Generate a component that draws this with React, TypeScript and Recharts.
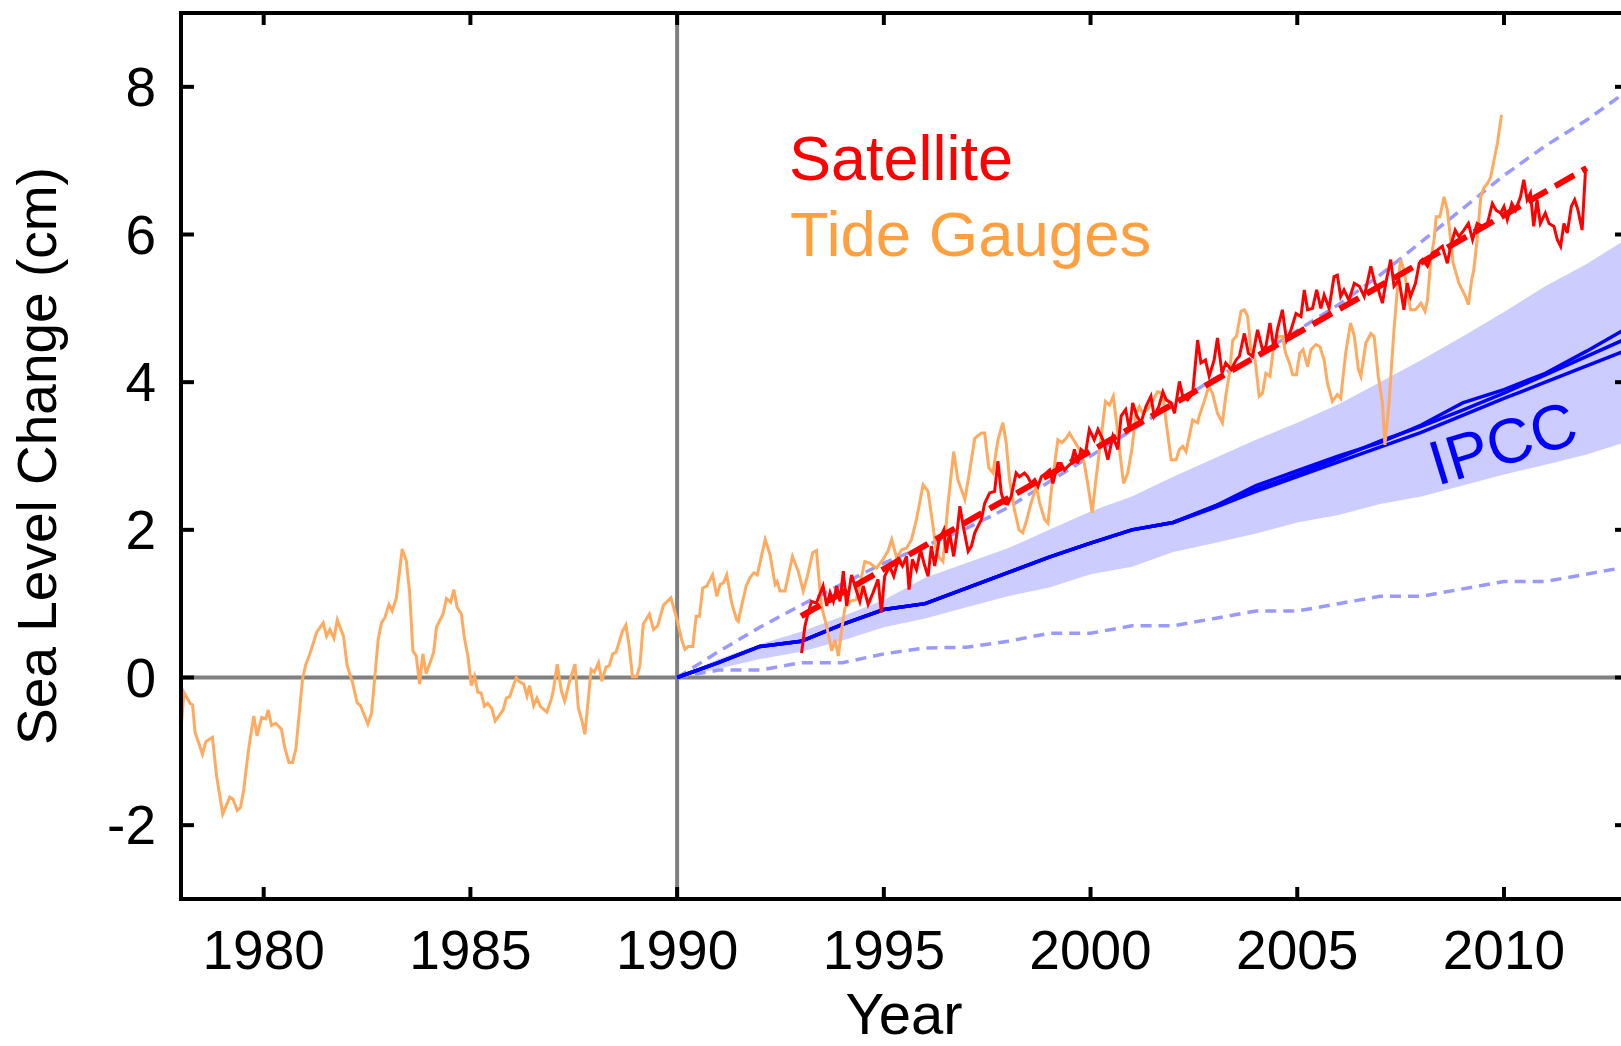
import {
  ComposedChart,
  Line,
  Area,
  XAxis,
  YAxis,
  ReferenceLine,
} from 'recharts';

const FONT = '"Liberation Sans", Arial, Helvetica, sans-serif';

// axis ticks
const yearTicks = [1980, 1985, 1990, 1995, 2000, 2005, 2010];
const levelTicks = [-2, 0, 2, 4, 6, 8];

// tide gauge record [year, cm]
const tideGauge = [
  [1978.0, -0.72], [1978.07, -0.2], [1978.22, -0.35], [1978.28, -0.37], [1978.34, -0.74],
  [1978.52, -1.04], [1978.6, -0.87], [1978.76, -0.81], [1978.86, -1.33], [1979.01, -1.85],
  [1979.18, -1.62], [1979.26, -1.65], [1979.36, -1.8], [1979.44, -1.76], [1979.52, -1.51],
  [1979.63, -0.99], [1979.76, -0.52], [1979.84, -0.79], [1979.95, -0.54], [1980.05, -0.56],
  [1980.11, -0.44], [1980.19, -0.65], [1980.29, -0.62], [1980.43, -0.7], [1980.51, -0.95],
  [1980.61, -1.15], [1980.7, -1.15], [1980.78, -0.96], [1980.94, -0.02], [1981.02, 0.18],
  [1981.1, 0.29], [1981.28, 0.61], [1981.44, 0.74], [1981.52, 0.56], [1981.6, 0.65],
  [1981.7, 0.53], [1981.78, 0.78], [1981.93, 0.56], [1982.02, 0.16], [1982.15, -0.07],
  [1982.26, -0.34], [1982.34, -0.38], [1982.52, -0.63], [1982.61, -0.48], [1982.77, 0.52],
  [1982.85, 0.74], [1982.93, 0.81], [1983.03, 0.99], [1983.11, 0.9], [1983.21, 1.08],
  [1983.35, 1.74], [1983.45, 1.58], [1983.53, 1.15], [1983.61, 0.36], [1983.69, 0.29],
  [1983.77, -0.09], [1983.85, 0.32], [1983.93, 0.05], [1984.11, 0.34], [1984.18, 0.68],
  [1984.34, 0.86], [1984.42, 1.07], [1984.52, 1.02], [1984.6, 1.19], [1984.68, 0.95],
  [1984.78, 0.86], [1984.86, 0.52], [1984.94, 0.29], [1985.02, -0.11], [1985.1, 0.02],
  [1985.18, -0.2], [1985.26, -0.21], [1985.34, -0.39], [1985.42, -0.35], [1985.52, -0.42],
  [1985.6, -0.59], [1985.79, -0.44], [1985.87, -0.28], [1985.95, -0.26], [1986.11, 0.0],
  [1986.19, -0.06], [1986.29, -0.09], [1986.37, -0.25], [1986.43, -0.11], [1986.53, -0.38],
  [1986.61, -0.28], [1986.69, -0.39], [1986.85, -0.47], [1986.96, -0.29], [1987.01, -0.16],
  [1987.1, 0.18], [1987.2, -0.18], [1987.28, -0.32], [1987.4, -0.05], [1987.53, 0.18],
  [1987.61, -0.41], [1987.7, -0.59], [1987.77, -0.77], [1987.92, 0.11], [1988.0, 0.07],
  [1988.1, 0.2], [1988.18, -0.05], [1988.28, 0.14], [1988.36, 0.16], [1988.44, 0.32],
  [1988.52, 0.34], [1988.68, 0.63], [1988.76, 0.71], [1988.84, 0.43], [1988.92, 0.01],
  [1989.02, 0.01], [1989.1, 0.16], [1989.18, 0.72], [1989.33, 0.86], [1989.43, 0.65],
  [1989.53, 0.7], [1989.67, 0.98], [1989.85, 1.08], [1989.99, 0.8], [1990.11, 0.51],
  [1990.19, 0.38], [1990.27, 0.42], [1990.38, 0.42], [1990.46, 0.83], [1990.54, 0.83],
  [1990.62, 1.21], [1990.72, 1.24], [1990.86, 1.39], [1990.96, 1.1], [1991.04, 1.26],
  [1991.12, 1.28], [1991.2, 1.39], [1991.32, 1.01], [1991.44, 0.78], [1991.48, 0.76],
  [1991.56, 0.97], [1991.67, 1.24], [1991.76, 1.35], [1991.86, 1.42], [1991.94, 1.39],
  [1992.13, 1.87], [1992.25, 1.66], [1992.37, 1.26], [1992.42, 1.3], [1992.49, 1.17],
  [1992.61, 1.17], [1992.79, 1.64], [1992.93, 1.44], [1993.05, 1.17], [1993.15, 1.37],
  [1993.28, 1.69], [1993.37, 1.72], [1993.49, 0.97], [1993.62, 0.69], [1993.74, 0.36],
  [1993.82, 0.51], [1993.9, 0.29], [1993.98, 0.65], [1994.06, 0.94], [1994.18, 1.03],
  [1994.34, 1.06], [1994.54, 1.57], [1994.66, 1.55], [1994.82, 1.48], [1994.98, 1.6],
  [1995.1, 1.71], [1995.19, 1.87], [1995.31, 1.62], [1995.43, 1.73], [1995.55, 1.75],
  [1995.67, 1.87], [1995.79, 2.14], [1995.95, 2.61], [1996.07, 2.52], [1996.19, 2.05],
  [1996.27, 1.71], [1996.35, 1.62], [1996.43, 1.57], [1996.55, 2.34], [1996.69, 3.06],
  [1996.79, 2.68], [1996.96, 2.41], [1997.08, 2.81], [1997.2, 3.24], [1997.36, 3.31],
  [1997.44, 3.31], [1997.54, 2.84], [1997.64, 2.77], [1997.76, 3.22], [1997.88, 3.45],
  [1997.96, 3.18], [1998.04, 2.68], [1998.16, 2.27], [1998.27, 2.0], [1998.36, 1.96],
  [1998.46, 2.14], [1998.56, 2.36], [1998.69, 2.59], [1998.77, 2.36], [1998.89, 2.14],
  [1998.97, 2.09], [1999.07, 2.63], [1999.21, 3.22], [1999.31, 3.18], [1999.41, 3.24],
  [1999.49, 3.31], [1999.61, 3.2], [1999.73, 3.09], [1999.85, 2.9], [1999.93, 2.63],
  [2000.04, 2.23], [2000.13, 2.68], [2000.26, 3.27], [2000.36, 3.74], [2000.46, 3.69],
  [2000.55, 3.81], [2000.63, 3.45], [2000.71, 3.04], [2000.8, 2.63], [2000.9, 2.77],
  [2001.0, 3.09], [2001.1, 3.58], [2001.18, 3.67], [2001.26, 3.58], [2001.38, 3.63],
  [2001.5, 3.74], [2001.62, 3.87], [2001.75, 3.85], [2001.83, 3.45], [2001.95, 2.95],
  [2002.07, 2.95], [2002.15, 3.09], [2002.23, 3.13], [2002.31, 3.06], [2002.47, 3.49],
  [2002.59, 3.45], [2002.63, 3.54], [2002.75, 3.74], [2002.86, 3.94], [2002.95, 3.85],
  [2003.07, 3.58], [2003.19, 3.45], [2003.27, 3.81], [2003.36, 4.12], [2003.44, 4.57],
  [2003.53, 4.62], [2003.64, 4.96], [2003.72, 4.98], [2003.8, 4.89], [2003.88, 4.44],
  [2003.98, 4.3], [2004.08, 3.81], [2004.16, 3.85], [2004.24, 4.12], [2004.34, 4.08],
  [2004.44, 4.53], [2004.55, 4.62], [2004.64, 4.62], [2004.72, 4.39], [2004.81, 4.26],
  [2004.89, 4.1], [2004.98, 4.1], [2005.06, 4.39], [2005.14, 4.44], [2005.25, 4.21],
  [2005.33, 4.44], [2005.45, 4.51], [2005.55, 4.48], [2005.65, 4.3], [2005.73, 3.99],
  [2005.85, 3.74], [2005.97, 3.83], [2006.05, 3.78], [2006.17, 4.39], [2006.29, 4.8],
  [2006.38, 4.62], [2006.48, 4.17], [2006.54, 4.08], [2006.66, 4.53], [2006.78, 4.66],
  [2006.86, 4.62], [2006.96, 4.08], [2007.06, 3.72], [2007.12, 3.15], [2007.22, 3.72],
  [2007.34, 4.71], [2007.42, 5.25], [2007.5, 5.66], [2007.58, 5.52], [2007.66, 5.25],
  [2007.74, 4.98], [2007.86, 4.98], [2007.99, 5.07], [2008.09, 4.96], [2008.15, 5.11],
  [2008.23, 5.66], [2008.31, 5.93], [2008.36, 6.24], [2008.45, 6.24], [2008.55, 6.51],
  [2008.63, 6.33], [2008.71, 5.93], [2008.77, 5.61], [2008.83, 5.5], [2008.91, 5.34],
  [2008.99, 5.25], [2009.07, 5.16], [2009.14, 5.05], [2009.22, 5.39], [2009.27, 5.52],
  [2009.35, 5.93], [2009.44, 6.51], [2009.51, 6.63], [2009.6, 6.69], [2009.68, 6.78],
  [2009.76, 7.01], [2009.84, 7.23], [2009.94, 7.62],
];

// satellite altimetry [year, cm]
const satellite = [
  [1993.01, 0.33], [1993.09, 0.69], [1993.15, 0.83], [1993.25, 1.03], [1993.37, 1.01],
  [1993.53, 1.24], [1993.62, 0.97], [1993.7, 1.15], [1993.78, 1.03], [1993.86, 1.24],
  [1993.94, 1.03], [1994.02, 1.44], [1994.1, 0.97], [1994.22, 1.39], [1994.3, 1.24],
  [1994.42, 1.03], [1994.5, 1.24], [1994.62, 0.99], [1994.74, 1.15], [1994.86, 1.33],
  [1994.94, 0.88], [1995.02, 1.37], [1995.14, 1.51], [1995.24, 1.37], [1995.35, 1.6],
  [1995.45, 1.51], [1995.55, 1.64], [1995.61, 1.19], [1995.69, 1.6], [1995.79, 1.46],
  [1995.89, 1.73], [1995.97, 1.55], [1996.07, 1.37], [1996.15, 1.78], [1996.23, 1.51],
  [1996.34, 1.87], [1996.45, 2.0], [1996.51, 1.69], [1996.59, 1.96], [1996.69, 1.64],
  [1996.77, 1.96], [1996.84, 2.32], [1996.92, 2.05], [1997.04, 1.71], [1997.12, 1.78],
  [1997.2, 1.96], [1997.28, 2.05], [1997.36, 2.14], [1997.44, 2.36], [1997.56, 2.5],
  [1997.68, 2.52], [1997.76, 2.93], [1997.84, 2.5], [1997.92, 2.36], [1998.0, 2.35],
  [1998.08, 2.45], [1998.2, 2.77], [1998.28, 2.72], [1998.4, 2.77], [1998.48, 2.72],
  [1998.56, 2.63], [1998.65, 2.68], [1998.73, 2.59], [1998.81, 2.72], [1998.93, 2.77],
  [1999.01, 2.81], [1999.09, 2.63], [1999.21, 2.9], [1999.29, 2.9], [1999.37, 2.81],
  [1999.45, 2.86], [1999.53, 2.9], [1999.61, 3.09], [1999.69, 2.9], [1999.77, 3.09],
  [1999.88, 3.04], [1999.97, 3.36], [2000.09, 3.22], [2000.18, 3.36], [2000.3, 3.22],
  [2000.42, 2.95], [2000.54, 3.27], [2000.66, 3.09], [2000.74, 3.54], [2000.85, 3.63],
  [2000.94, 3.36], [2001.02, 3.72], [2001.12, 3.54], [2001.22, 3.45], [2001.34, 3.67],
  [2001.46, 3.81], [2001.54, 3.54], [2001.65, 3.67], [2001.75, 3.87], [2001.83, 3.76],
  [2001.95, 3.72], [2002.03, 3.58], [2002.15, 4.01], [2002.23, 3.81], [2002.35, 3.76],
  [2002.47, 3.85], [2002.59, 4.57], [2002.67, 4.26], [2002.78, 4.3], [2002.87, 4.08],
  [2002.99, 4.3], [2003.07, 4.6], [2003.18, 4.12], [2003.27, 4.26], [2003.4, 4.17],
  [2003.52, 4.3], [2003.6, 4.35], [2003.72, 4.66], [2003.82, 4.39], [2003.92, 4.35],
  [2004.04, 4.71], [2004.16, 4.44], [2004.24, 4.48], [2004.34, 4.8], [2004.44, 4.44],
  [2004.52, 4.71], [2004.64, 4.98], [2004.74, 4.57], [2004.85, 4.71], [2004.97, 4.93],
  [2005.09, 4.89], [2005.17, 5.25], [2005.25, 4.98], [2005.37, 5.0], [2005.47, 5.25],
  [2005.57, 5.0], [2005.65, 5.18], [2005.77, 5.0], [2005.89, 5.43], [2005.97, 5.45],
  [2006.05, 5.16], [2006.13, 5.25], [2006.25, 5.11], [2006.38, 5.34], [2006.5, 5.3],
  [2006.62, 5.16], [2006.78, 5.57], [2006.88, 5.34], [2006.96, 5.25], [2007.06, 5.07],
  [2007.14, 5.34], [2007.26, 5.66], [2007.34, 5.3], [2007.46, 5.39], [2007.58, 4.98],
  [2007.66, 5.34], [2007.74, 5.16], [2007.86, 5.34], [2007.95, 5.61], [2008.03, 5.66],
  [2008.15, 5.57], [2008.27, 5.75], [2008.39, 5.79], [2008.51, 5.84], [2008.63, 5.61],
  [2008.71, 5.84], [2008.82, 6.06], [2008.91, 5.97], [2009.03, 6.06], [2009.14, 6.15],
  [2009.24, 5.93], [2009.35, 6.15], [2009.48, 6.11], [2009.6, 6.15], [2009.72, 6.42],
  [2009.81, 6.33], [2009.92, 6.29], [2010.0, 6.38], [2010.08, 6.2], [2010.19, 6.42],
  [2010.28, 6.33], [2010.4, 6.51], [2010.48, 6.74], [2010.56, 6.47], [2010.64, 6.56],
  [2010.72, 6.11], [2010.8, 6.47], [2010.88, 6.15], [2011.0, 6.29], [2011.09, 6.15],
  [2011.21, 6.11], [2011.29, 5.93], [2011.37, 5.84], [2011.45, 6.15], [2011.53, 6.02],
  [2011.63, 6.38], [2011.71, 6.47], [2011.79, 6.33], [2011.89, 6.06], [2011.97, 6.85],
];

// satellite linear trend
const satelliteTrend = [
  [1993.0, 0.83],
  [2012.0, 6.9],
];

// IPCC projections, yearly
const ipccYears = [
  1990, 1991, 1992, 1993, 1994, 1995, 1996, 1997, 1998, 1999, 2000, 2001,
  2002, 2003, 2004, 2005, 2006, 2007, 2008, 2009, 2010, 2011, 2012, 2013,
];
const bandLow = [
  0, 0.12, 0.25, 0.35, 0.5, 0.68, 0.8, 0.95, 1.1, 1.22, 1.4, 1.5,
  1.7, 1.82, 1.95, 2.1, 2.2, 2.35, 2.45, 2.6, 2.75, 2.88, 3.02, 3.2,
];
const bandHigh = [
  0, 0.25, 0.45, 0.62, 0.83, 1.05, 1.35, 1.55, 1.75, 2.0, 2.25, 2.45,
  2.72, 2.97, 3.22, 3.45, 3.7, 4.0, 4.3, 4.62, 4.95, 5.3, 5.6, 5.95,
];
const upperBound = [
  0, 0.35, 0.68, 0.98, 1.27, 1.55, 1.78, 2.02, 2.3, 2.65, 3.0, 3.35,
  3.7, 4.05, 4.35, 4.7, 5.05, 5.45, 5.9, 6.35, 6.8, 7.2, 7.55, 7.95,
];
const lowerBound = [
  0, 0.1, 0.1, 0.2, 0.2, 0.32, 0.4, 0.41, 0.49, 0.6, 0.6, 0.7,
  0.7, 0.8, 0.9, 0.9, 1.0, 1.1, 1.1, 1.2, 1.3, 1.3, 1.4, 1.5,
];
const ipccA = [
  0, 0.2, 0.42, 0.49, 0.72, 0.92, 1.0, 1.21, 1.42, 1.63, 1.82, 2.0,
  2.1, 2.32, 2.6, 2.8, 3.0, 3.18, 3.42, 3.72, 3.9, 4.12, 4.42, 4.74,
];
const ipccB = [
  0, 0.2, 0.42, 0.49, 0.72, 0.92, 1.0, 1.21, 1.42, 1.63, 1.82, 2.0,
  2.1, 2.32, 2.55, 2.75, 2.97, 3.2, 3.4, 3.62, 3.85, 4.1, 4.35, 4.6,
];
const ipccC = [
  0, 0.2, 0.42, 0.49, 0.72, 0.92, 1.0, 1.21, 1.42, 1.63, 1.82, 2.0,
  2.1, 2.3, 2.52, 2.72, 2.92, 3.12, 3.32, 3.55, 3.78, 4.0, 4.22, 4.44,
];

const toPoints = (rows: number[][]) => rows.map(([x, y]) => ({ x, y }));

const ipccData = ipccYears.map((x, i) => ({
  x,
  band: [bandLow[i], bandHigh[i]],
  hi: upperBound[i],
  lo: lowerBound[i],
  a: ipccA[i],
  b: ipccB[i],
  c: ipccC[i],
}));

function LeftTick({ x, y, payload }: any) {
  return (
    <g>
      <line x1={x} x2={x + 13} y1={y} y2={y} stroke="#000" strokeWidth={4} />
      <text x={x - 25} y={y} dy={19} textAnchor="end" fontSize={55} fontFamily={FONT} fill="#000">
        {payload.value}
      </text>
    </g>
  );
}

function BottomTick({ x, y, payload }: any) {
  return (
    <g>
      <line x1={x} x2={x} y1={y} y2={y - 12} stroke="#000" strokeWidth={4} />
      <text x={x} y={y + 70} textAnchor="middle" fontSize={55} fontFamily={FONT} fill="#000">
        {payload.value}
      </text>
    </g>
  );
}

function TopTick({ x, y }: any) {
  return <line x1={x} x2={x} y1={y} y2={y + 12} stroke="#000" strokeWidth={4} />;
}

function RightTick({ x, y }: any) {
  return <line x1={x} x2={x - 13} y1={y} y2={y} stroke="#000" strokeWidth={4} />;
}

const frame = { stroke: '#000', strokeWidth: 4, strokeLinecap: 'square' as const };

export default function App() {
  return (
    <div
      style={{
        position: 'absolute',
        left: 0,
        top: 0,
        width: 1621,
        height: 1046,
        overflow: 'hidden',
        background: '#fff',
      }}
    >
      <ComposedChart width={1650} height={1046} margin={{ top: 12, right: 21, bottom: 47, left: 0 }}>
        <XAxis
          dataKey="x"
          type="number"
          domain={[1978, 2013]}
          ticks={yearTicks}
          interval={0}
          allowDataOverflow
          height={100}
          axisLine={frame}
          tickLine={false}
          tickSize={0}
          tickMargin={0}
          tick={<BottomTick />}
        />
        <XAxis
          xAxisId="top"
          orientation="top"
          dataKey="x"
          type="number"
          domain={[1978, 2013]}
          ticks={yearTicks}
          interval={0}
          allowDataOverflow
          height={1}
          axisLine={frame}
          tickLine={false}
          tickSize={0}
          tickMargin={0}
          tick={<TopTick />}
        />
        <YAxis
          type="number"
          domain={[-3, 9]}
          ticks={levelTicks}
          interval={0}
          allowDataOverflow
          width={181}
          axisLine={frame}
          tickLine={false}
          tickSize={0}
          tickMargin={0}
          tick={<LeftTick />}
        />
        <YAxis
          yAxisId="right"
          orientation="right"
          type="number"
          domain={[-3, 9]}
          ticks={levelTicks}
          interval={0}
          allowDataOverflow
          width={1}
          axisLine={frame}
          tickLine={false}
          tickSize={0}
          tickMargin={0}
          tick={<RightTick />}
        />

        <Area
          data={ipccData}
          dataKey="band"
          type="linear"
          stroke="none"
          fill="#ccccff"
          fillOpacity={1}
          isAnimationActive={false}
          activeDot={false}
        />
        <ReferenceLine y={0} stroke="#808080" strokeWidth={4} />
        <ReferenceLine x={1990} stroke="#808080" strokeWidth={4} />

        {/* keeps the top and right frame axes tied to data so their ticks draw */}
        <Line
          data={ipccData}
          dataKey="a"
          xAxisId="top"
          yAxisId="right"
          stroke="none"
          dot={false}
          activeDot={false}
          isAnimationActive={false}
        />

        <Line data={ipccData} dataKey="lo" stroke="#9999ff" strokeWidth={3.5} strokeDasharray="11 7" dot={false} activeDot={false} isAnimationActive={false} />
        <Line data={ipccData} dataKey="hi" stroke="#9999ff" strokeWidth={3.5} strokeDasharray="11 7" dot={false} activeDot={false} isAnimationActive={false} />
        <Line data={ipccData} dataKey="a" stroke="#0000ff" strokeWidth={3.5} dot={false} activeDot={false} isAnimationActive={false} />
        <Line data={ipccData} dataKey="b" stroke="#0000ff" strokeWidth={3.5} dot={false} activeDot={false} isAnimationActive={false} />
        <Line data={ipccData} dataKey="c" stroke="#0000ff" strokeWidth={3.5} dot={false} activeDot={false} isAnimationActive={false} />

        <Line data={toPoints(tideGauge)} dataKey="y" stroke="#ffaa5e" strokeWidth={3} dot={false} activeDot={false} isAnimationActive={false} />
        <Line data={toPoints(satellite)} dataKey="y" stroke="#ff0000" strokeWidth={3} dot={false} activeDot={false} isAnimationActive={false} />
        <Line data={toPoints(satelliteTrend)} dataKey="y" stroke="#ff0000" strokeWidth={6} strokeDasharray="22 9" dot={false} activeDot={false} isAnimationActive={false} />

        <text x={789} y={180} fontSize={63} fontFamily={FONT} fill="#ff0000">
          Satellite
        </text>
        <text x={790} y={256} fontSize={63.5} fontFamily={FONT} fill="#ffa040">
          Tide Gauges
        </text>
        <text x={904} y={1034} fontSize={58} fontFamily={FONT} fill="#000" textAnchor="middle">
          Year
        </text>
        <text
          x={56}
          y={456}
          fontSize={55}
          fontFamily={FONT}
          fill="#000"
          textAnchor="middle"
          transform="rotate(-90 56 456)"
        >
          Sea Level Change (cm)
        </text>
      </ComposedChart>

      {/* series label drawn above the shaded band */}
      <svg
        width={1621}
        height={1046}
        style={{ position: 'absolute', left: 0, top: 0, pointerEvents: 'none' }}
      >
        <text
          x={1509}
          y={464}
          fontSize={63}
          fontFamily={FONT}
          fill="#0000ff"
          textAnchor="middle"
          transform="rotate(-17 1509 464)"
        >
          IPCC
        </text>
      </svg>
    </div>
  );
}
